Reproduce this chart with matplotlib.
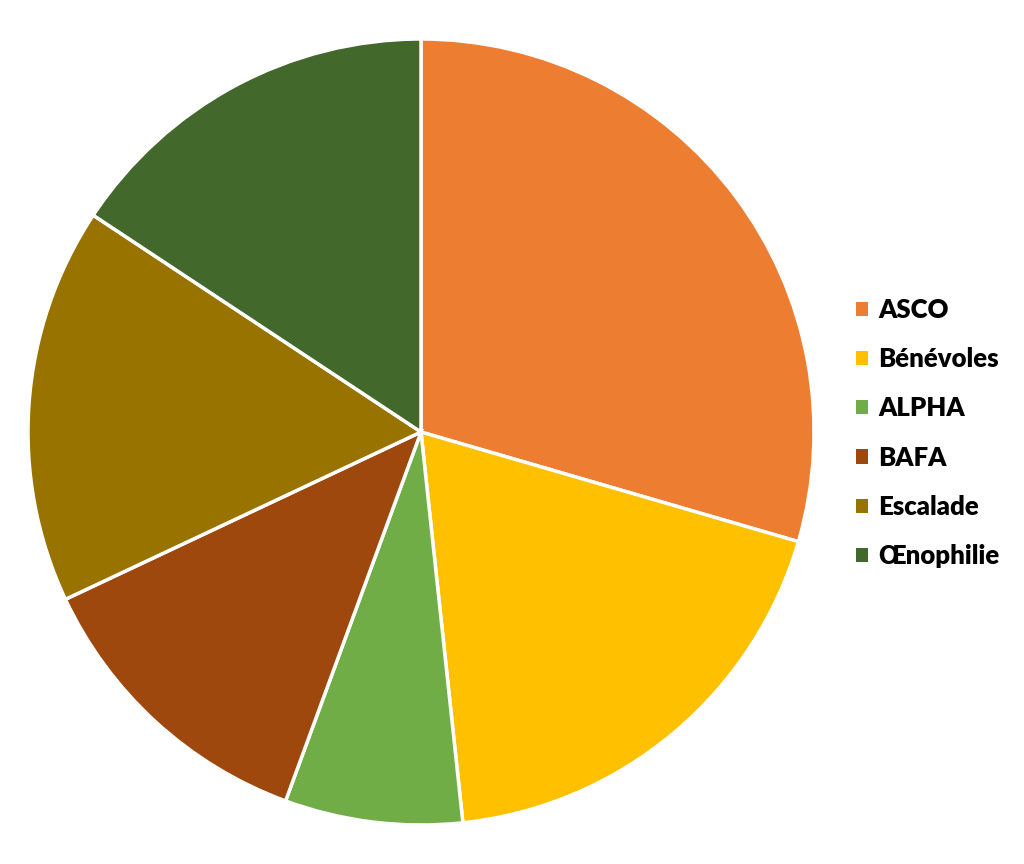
import matplotlib.pyplot as plt

labels = ['ASCO', 'Bénévoles', 'ALPHA', 'BAFA', 'Escalade', 'Œnophilie']
values = [29.5, 18.8, 7.3, 12.4, 16.3, 15.7]
colors = ['#ED7D31', '#FFC000', '#70AD47', '#9E480E', '#997300', '#43682B']

plt.rcParams['font.family'] = ['Lato', 'DejaVu Sans']

fig = plt.figure(figsize=(10.24, 8.64), dpi=100)
# pie centred at ~(421, 432) px, radius ~393 px
ax = fig.add_axes([28 / 1024, 39 / 864, 786 / 1024, 786 / 864])
wedges, _ = ax.pie(values, colors=colors, startangle=90, counterclock=False,
                   radius=1.0,
                   wedgeprops=dict(edgecolor='white', linewidth=2.5))
ax.set_xlim(-1.0, 1.0)
ax.set_ylim(-1.0, 1.0)
ax.set_aspect('equal')
ax.axis('off')

leg = fig.legend(wedges, labels, loc='center left',
                 bbox_to_anchor=(833 / 1024, 1 - 433 / 864),
                 frameon=False, handlelength=0.47, handleheight=0.47,
                 handletextpad=0.4, labelspacing=0.98,
                 prop=dict(family=['Lato', 'DejaVu Sans'], weight='heavy', size=18.5))
for h in leg.legend_handles:
    h.set_edgecolor('none')

fig.savefig('out.png', dpi=100)
plt.close(fig)
